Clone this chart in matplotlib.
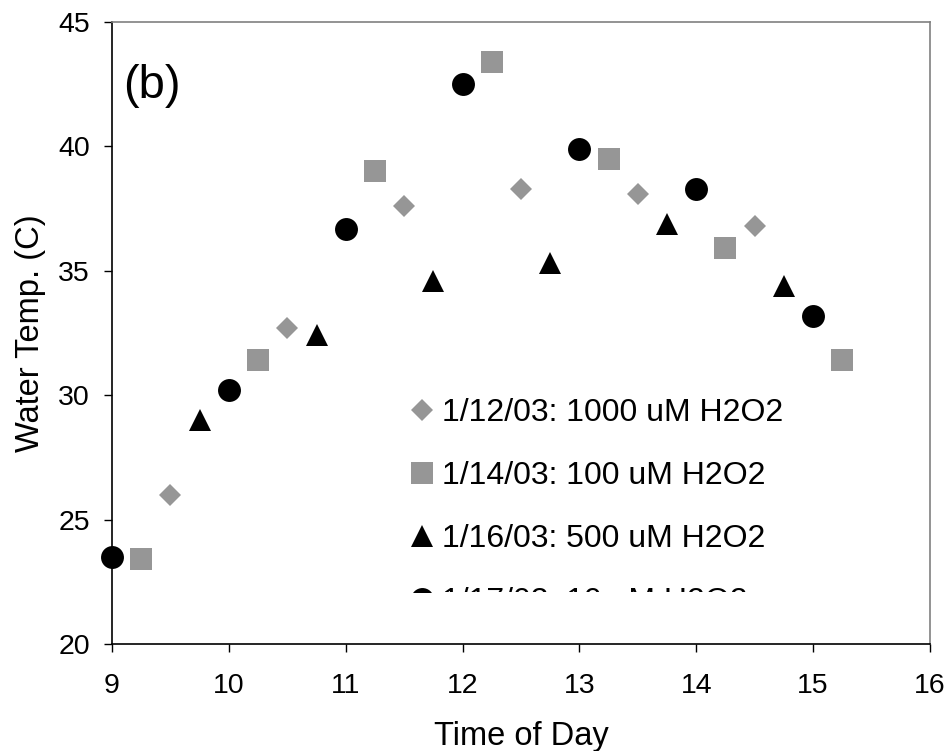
import matplotlib
matplotlib.use('Agg')
import matplotlib.pyplot as plt
from matplotlib.transforms import Bbox, TransformedBbox

plt.rcParams['font.family'] = ['Liberation Sans', 'DejaVu Sans']

# readings per day: time of day (h) and water temperature (C)
t_0112 = [9.5, 10.5, 11.5, 12.5, 13.5, 14.5]
temp_0112 = [26.0, 32.7, 37.6, 38.3, 38.1, 36.8]

t_0114 = [9.25, 10.25, 11.25, 12.25, 13.25, 14.25, 15.25]
temp_0114 = [23.4, 31.4, 39.0, 43.4, 39.5, 35.9, 31.4]

t_0116 = [9.75, 10.75, 11.75, 12.75, 13.75, 14.75]
temp_0116 = [29.0, 32.4, 34.6, 35.3, 36.9, 34.4]

t_0117 = [9, 10, 11, 12, 13, 14, 15]
temp_0117 = [23.5, 30.2, 36.7, 42.5, 39.9, 38.3, 33.2]

labels = ['1/12/03: 1000 uM H2O2', '1/14/03: 100 uM H2O2',
          '1/16/03: 500 uM H2O2', '1/17/03: 10 uM H2O2']

gray = '#969696'

fig = plt.figure(figsize=(9.47, 7.51), dpi=100)
ax = fig.add_axes([0.1183, 0.1425, 0.8637, 0.8282])

ax.plot(t_0112, temp_0112, 'D', color=gray, ms=11.7, mew=0, label=labels[0], clip_on=False)
ax.plot(t_0114, temp_0114, 's', color=gray, ms=16.5, mew=0, label=labels[1], clip_on=False)
ax.plot(t_0116, temp_0116, '^', color='black', ms=16.5, mew=0, label=labels[2], clip_on=False)
ax.plot(t_0117, temp_0117, 'o', color='black', ms=16.5, mew=0, label=labels[3], clip_on=False)

ax.set_xlim(9, 16)
ax.set_ylim(20, 45)
ax.set_xticks(range(9, 17))
ax.set_yticks(range(20, 46, 5))
ax.tick_params(labelsize=20.5, length=6, width=1, direction='out', pad=10)
ax.tick_params(axis='x', pad=15)
for s in ['left', 'bottom']:
    ax.spines[s].set_color('black')
    ax.spines[s].set_linewidth(1.2)
for s in ['top', 'right']:
    ax.spines[s].set_color('#808080')
    ax.spines[s].set_linewidth(1.2)

ax.set_xlabel('Time of Day', fontsize=23.5, labelpad=15.5)
ax.set_ylabel('Water Temp. (C)', fontsize=23.5, labelpad=9)
ax.text(0.013, 0.878, '(b)', transform=ax.transAxes, fontsize=34)

leg = ax.legend(loc='upper left', bbox_to_anchor=(0.3655, 0.395), frameon=False,
                fontsize=23, handlelength=0.7, handletextpad=0.28,
                labelspacing=1.03, borderpad=0, borderaxespad=0)
# the last legend row is cut off in the original
clip = TransformedBbox(Bbox([[0, 0.0836], [1, 1]]), ax.transAxes)
for a in leg.findobj():
    a.set_clip_box(clip)
    a.set_clip_on(True)

fig.savefig('out.png', dpi=100)
